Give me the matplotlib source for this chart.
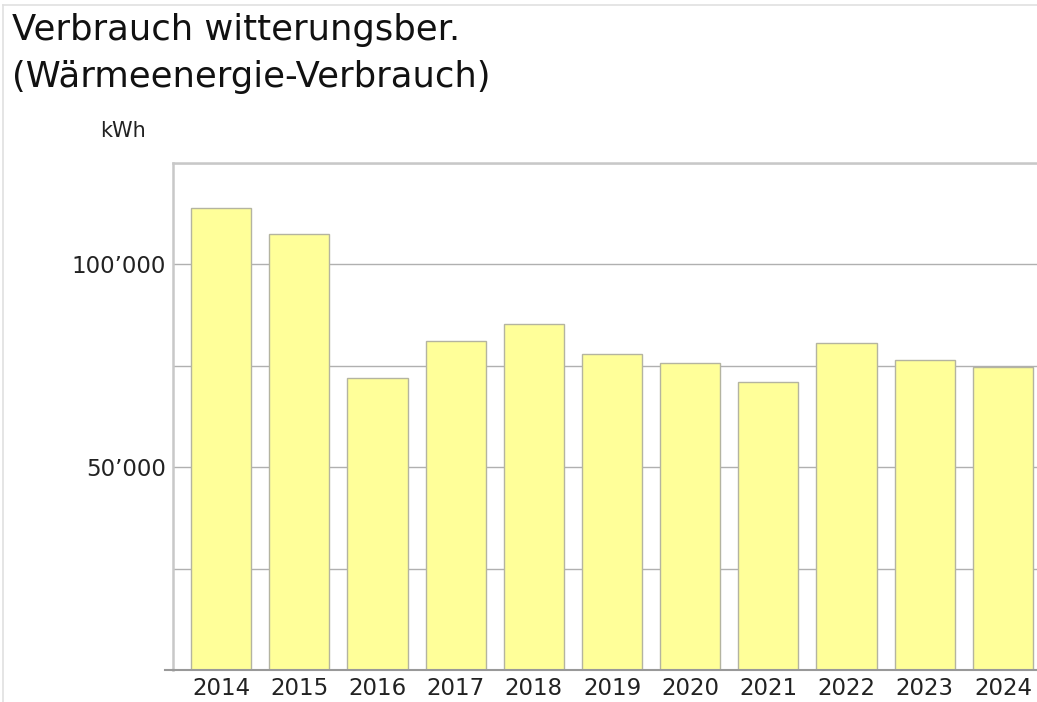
import matplotlib.pyplot as plt
from matplotlib.ticker import MultipleLocator, FuncFormatter
from matplotlib.lines import Line2D

plt.rcParams['font.family'] = ['DejaVu Sans']

# Daten
jahre = ['2014', '2015', '2016', '2017', '2018', '2019', '2020', '2021', '2022', '2023', '2024']
verbrauch = [113800, 107400, 72100, 81200, 85200, 77800, 75800, 70900, 80500, 76500, 74800]

fig = plt.figure(figsize=(10.37, 7.02), dpi=100)
ax = fig.add_axes([173 / 1037, 32 / 702, 878 / 1037, 507 / 702])

x = list(range(len(jahre)))
ax.bar(x, verbrauch, width=0.77, color='#ffff99', edgecolor='#b4b4a0', linewidth=1.0, zorder=3)

ax.set_xlim(-0.615, len(jahre) - 1 + 0.615)
ax.set_ylim(0, 125000)
ax.set_xticks(x)
ax.set_xticklabels(jahre)

ax.yaxis.set_major_locator(MultipleLocator(50000))
ax.yaxis.set_minor_locator(MultipleLocator(25000))
ax.yaxis.set_major_formatter(FuncFormatter(
    lambda v, p: '' if v == 0 else f'{int(v):,}'.replace(',', '\u2019')))
ax.grid(axis='y', which='both', color='#b0b0b0', linewidth=1.0, zorder=1)

ax.tick_params(axis='both', which='both', length=0, labelsize=16.5, colors='#222222')
ax.tick_params(axis='x', pad=5)
ax.tick_params(axis='y', pad=5)

for s in ['left', 'top']:
    ax.spines[s].set_color('#c8c8c8')
    ax.spines[s].set_linewidth(1.8)
ax.spines['right'].set_visible(False)
ax.spines['bottom'].set_color('#999999')
ax.spines['bottom'].set_linewidth(1.5)
ax.spines['bottom'].set_zorder(4)

# kurze Verlängerung der Nulllinie links
ax.plot([-0.72, -0.615], [0, 0], color='#999999', linewidth=1.5, clip_on=False, zorder=4)

# Titel (zwei Zeilen) und Einheit
titel = ['Verbrauch witterungsber.', '(Wärmeenergie-Verbrauch)']
for zeile, basis in zip(titel, [40, 87]):
    fig.text(12 / 1037, 1 - basis / 702, zeile, fontsize=25.5, color='#111111',
             ha='left', va='baseline')
fig.text(100 / 1037, 1 - 131 / 702, 'kWh', fontsize=15, color='#222222', ha='left', va='center')

# heller Rahmen
fig.add_artist(Line2D([3 / 1037, 3 / 1037], [0, 1 - 5 / 702], transform=fig.transFigure,
                      color='#e0e0e0', linewidth=1.2))
fig.add_artist(Line2D([3 / 1037, 1], [1 - 5 / 702, 1 - 5 / 702], transform=fig.transFigure,
                      color='#e0e0e0', linewidth=1.2))

plt.savefig('out.png', dpi=100)
plt.close()
